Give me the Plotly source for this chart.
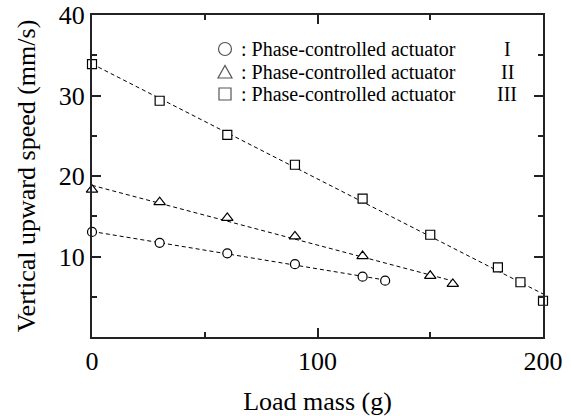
import numpy as np
import plotly.graph_objects as go

# Data
mass_I = [0, 30, 60, 90, 120, 130]
speed_I = [13.05, 11.7, 10.4, 9.05, 7.5, 7.0]
mass_II = [0, 30, 60, 90, 120, 150, 160]
speed_II = [18.3, 16.75, 14.8, 12.5, 10.05, 7.6, 6.6]
mass_III = [0, 30, 60, 90, 120, 150, 180, 190, 200]
speed_III = [33.9, 29.35, 25.1, 21.4, 17.2, 12.7, 8.65, 6.8, 4.5]

x_ticks = [0, 100, 200]
y_ticks = [10, 20, 30, 40]
legend_labels = ["Phase-controlled actuator", "Phase-controlled actuator", "Phase-controlled actuator"]
legend_numerals = ["I", "II", "III"]

FONT = "Liberation Serif"
fig = go.Figure()

series = [
    (mass_I, speed_I, "circle"),
    (mass_II, speed_II, "triangle-up"),
    (mass_III, speed_III, "square"),
]
for xs, ys, sym in series:
    k, b = np.polyfit(xs, ys, 1)
    xl = [min(xs), max(xs)]
    fig.add_trace(go.Scatter(x=xl, y=[k * v + b for v in xl], mode="lines",
                             line=dict(color="black", width=1, dash="4px,3px"),
                             showlegend=False, hoverinfo="skip", cliponaxis=False))
for xs, ys, sym in series:
    fig.add_trace(go.Scatter(x=xs, y=ys, mode="markers", cliponaxis=False,
                             marker=dict(symbol=sym, size=9 if sym != "triangle-up" else 10,
                                         color="white",
                                         line=dict(color="black", width=1.2)),
                             showlegend=False))

axis_common = dict(showline=True, linecolor="#222", linewidth=2, mirror="allticks",
                   ticks="inside", ticklen=9, tickwidth=1.5, tickcolor="#222",
                   showgrid=False, zeroline=False, automargin=False,
                   tickfont=dict(family=FONT, size=26, color="black"))
fig.update_xaxes(range=[0, 200], tickvals=x_ticks,
                 minor=dict(ticks="inside", ticklen=5, dtick=50, tick0=0, tickcolor="#222", tickwidth=1.5),
                 title=dict(text="Load mass (g)", font=dict(family=FONT, size=26, color="black"), standoff=17),
                 **axis_common)
fig.update_yaxes(range=[0, 40], tickvals=y_ticks,
                 minor=dict(ticks="inside", ticklen=5, dtick=5, tick0=0, tickcolor="#222", tickwidth=1.5),
                 title=dict(text="Vertical upward speed (mm/s)", font=dict(family=FONT, size=26, color="black"), standoff=16),
                 **axis_common)

L, R, T, B = 92, 543, 15, 337
def px(x):
    return (x - L) / (R - L)
def py(y):
    return (B - y) / (B - T)

rows_y = [49, 72, 94]
gc = "#555"
# legend symbols (layout decorations)
cx, r = 225, 6.5
cy = rows_y[0]
fig.add_shape(type="circle", xref="paper", yref="paper", x0=px(cx - r), x1=px(cx + r),
              y0=py(cy + r), y1=py(cy - r), line=dict(color=gc, width=1.2))
cy = rows_y[1]
fig.add_shape(type="path", xref="paper", yref="paper",
              path=f"M {px(cx-7)} {py(cy+6)} L {px(cx+7)} {py(cy+6)} L {px(cx)} {py(cy-6.5)} Z",
              line=dict(color=gc, width=1.2))
cy = rows_y[2]
fig.add_shape(type="rect", xref="paper", yref="paper", x0=px(cx - 6), x1=px(cx + 6),
              y0=py(cy + 6), y1=py(cy - 6), line=dict(color=gc, width=1.2))

for i in range(3):
    fig.add_annotation(xref="paper", yref="paper", x=px(239), y=py(rows_y[i]),
                       text=": " + legend_labels[i], showarrow=False, xanchor="left", yanchor="middle",
                       font=dict(family=FONT, size=20, color="black"))
    fig.add_annotation(xref="paper", yref="paper", x=px(507), y=py(rows_y[i]),
                       text=legend_numerals[i], showarrow=False, xanchor="center", yanchor="middle",
                       font=dict(family=FONT, size=20, color="black"))

fig.update_layout(width=571, height=416, margin=dict(l=L, r=571 - R, t=T, b=416 - B),
                  plot_bgcolor="white", paper_bgcolor="white", showlegend=False)
fig.write_html("out.html")
